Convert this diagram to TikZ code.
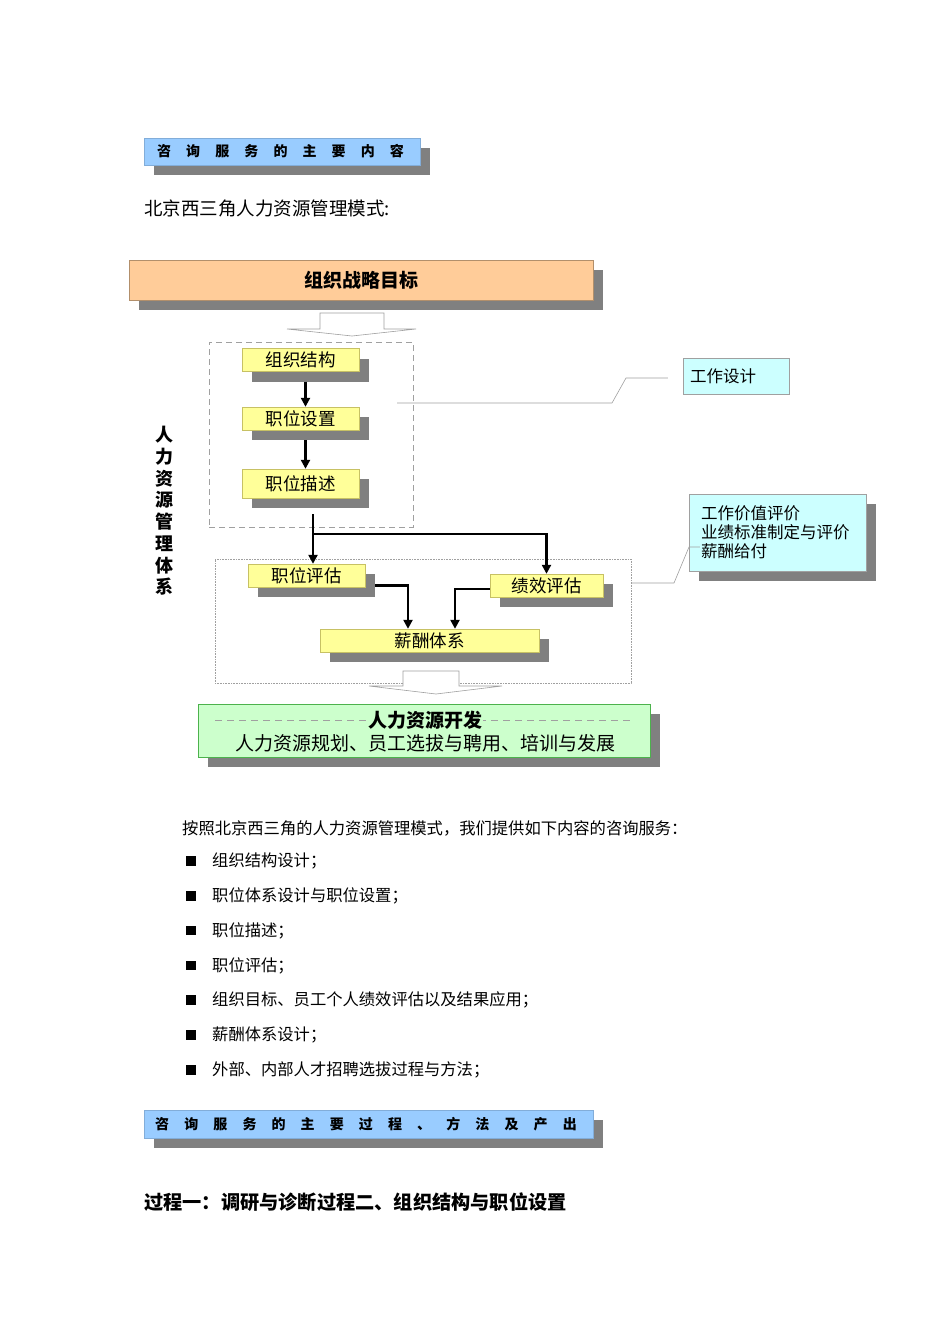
\documentclass[tikz,border=0pt]{standalone}
\usepackage{fontspec}
\usetikzlibrary{arrows.meta,calc,positioning,shadows}
\newfontfamily\cjk{Noto Sans CJK SC}
\newfontfamily\cjkwide{Noto Sans CJK SC}[LetterSpace=108]
\definecolor{bannerblue}{HTML}{99CCFF}
\definecolor{goalorange}{HTML}{FFCC99}
\definecolor{stepyellow}{HTML}{FFFF99}
\definecolor{notecyan}{HTML}{CCFFFF}
\definecolor{devgreen}{HTML}{CCFFCC}
\definecolor{shade}{HTML}{808080}
\definecolor{linegray}{HTML}{A0A0A0}

\begin{document}
\begin{tikzpicture}[x=1pt,y=-1pt,
    every node/.style={font=\cjk},
    shadowed/.style={drop shadow={shadow xshift=10pt,shadow yshift=-10pt,fill=shade,opacity=1}},
    banner/.style={fill=bannerblue,draw=bannerblue!85!black,line width=0.4pt,shadowed,
      inner sep=0pt,font=\cjkwide\bfseries\fontsize{14}{16}\selectfont},
    stepbox/.style={fill=stepyellow,draw=yellow!50!gray,line width=0.4pt,shadowed,
      inner sep=0pt,minimum width=117pt,minimum height=23pt,font=\cjk\fontsize{17.5}{19}\selectfont},
    notebox/.style={fill=notecyan,draw=linegray,line width=0.5pt,align=left,
      font=\cjk\fontsize{16.5}{19}\selectfont},
    frame/.style={draw=linegray,line width=0.6pt,minimum width=#1,inner sep=0pt},
    flow/.style={line width=2.6pt,-{Triangle[length=9pt,width=9pt]}},
    callout/.style={draw=linegray,line width=0.6pt},
    hollow/.style={draw=linegray,line width=0.6pt,fill=white},
    body/.style={anchor=west,inner sep=0pt,font=\cjk\fontsize{16.3}{18}\selectfont},
    bullet/.style={fill=black,minimum size=9.5pt,inner sep=0pt}
  ]
  \useasboundingbox (0,0) rectangle (950,1344);

  % section banners
  \node[banner,minimum width=276pt,minimum height=27pt] (topic) at (282,151.5)
    {\hspace*{-3pt}咨询服务的主要内容};
  \node[body,font=\cjk\fontsize{18.5}{20}\selectfont] (model) at (144,208) {北京西三角人力资源管理模式:};

  % strategy goal
  \node[fill=goalorange,draw=goalorange!70!black,line width=0.4pt,shadowed,inner sep=0pt,
    minimum width=464pt,minimum height=40pt,font=\cjk\bfseries\fontsize{19}{21}\selectfont]
    (goal) at (361,280) {组织战略目标};
  \draw[hollow] (320,313) -- (384,313) -- (384,329) -- (416,329) -- (352,336)
    -- (287,329) -- (320,329) -- cycle;

  % dashed frames
  \node[frame=204pt,dashed,dash pattern=on 6pt off 4pt,minimum height=185pt] (upper) at (311,434.5) {};
  \node[frame=416pt,densely dotted,minimum height=124pt] (lower) at (423,621) {};

  % steps
  \node[stepbox] (org) at (300.5,360) {组织结构};
  \node[stepbox] (setup) at (300.5,418.5) {职位设置};
  \node[stepbox,minimum height=29pt] (desc) at (300.5,483.5) {职位描述};
  \node[stepbox] (evalpos) at (306.5,575.5) {职位评估};
  \node[stepbox,minimum width=113pt] (evalperf) at (546.5,585.5) {绩效评估};
  \node[stepbox,minimum width=219pt] (pay) at (429.5,640.5) {薪酬体系};

  \draw[flow] ([xshift=5pt,yshift=-10pt]org.south) -- ([xshift=5pt]setup.north);
  \draw[flow] ([xshift=5pt,yshift=-10pt]setup.south) -- ([xshift=5pt]desc.north);
  \coordinate (descout) at ([xshift=12.5pt,yshift=-16pt]desc.south);
  \coordinate (split) at (descout |- 0,534);
  \draw[flow] (descout) -- (descout |- evalpos.north);
  \draw[flow] (split) -| (evalperf.north);
  \draw[flow] ([xshift=10pt,yshift=-10pt]evalpos.east) -| ([xshift=-21.5pt]pay.north);
  \draw[flow] ([yshift=-3.5pt]evalperf.west) -| ([xshift=25.5pt]pay.north);

  \draw[hollow] (403,671) -- (459,671) -- (459,686) -- (502,686) -- (436,694)
    -- (369,686) -- (403,686) -- cycle;

  % development
  \node[fill=devgreen,draw=green!40!gray,line width=0.4pt,shadowed,inner sep=0pt,
    minimum width=452pt,minimum height=53pt] (dev) at (424,730.5) {};
  \draw[linegray,dashed,dash pattern=on 7pt off 5pt] (215,720) -- (631,720);
  \node[fill=devgreen,inner sep=1pt,font=\cjk\bfseries\fontsize{19}{21}\selectfont]
    (devtitle) at (425,720) {人力资源开发};
  \node[font=\cjk\fontsize{19}{21}\selectfont,inner sep=0pt] (devtext) at (425,743)
    {人力资源规划、员工选拔与聘用、培训与发展};

  % side label
  \node[align=center,inner sep=0pt,font=\cjk\bfseries\fontsize{18}{21.7}\selectfont]
    (system) at (164,511) {人\\力\\资\\源\\管\\理\\体\\系};

  % notes
  \node[notebox,minimum width=106pt,minimum height=36pt,text width=92pt] (design) at (736,376) {工作设计};
  \node[notebox,shadowed,minimum width=177pt,minimum height=77pt,text width=153pt] (value) at (777.5,532.5)
    {工作价值评价\\业绩标准制定与评价\\薪酬给付};
  \coordinate (c1) at (397,403);
  \draw[callout] (c1) -- (612,403) -- (626,378) -- ([xshift=-15pt,yshift=-2pt]design.west);
  \coordinate (c2) at ([yshift=38pt]lower.east);
  \draw[callout] (c2) -- (674,583) -- (689,547) -- ([xshift=11pt,yshift=-14.5pt]value.west);

  % service list
  \node[body] (intro) at (182,828) {按照北京西三角的人力资源管理模式，我们提供如下内容的咨询服务：};
  \foreach \t [count=\i] in {组织结构设计；,职位体系设计与职位设置；,职位描述；,职位评估；,
      组织目标、员工个人绩效评估以及结果应用；,薪酬体系设计；,外部、内部人才招聘选拔过程与方法；}{
    \node[bullet] (dot\i) at (191,{861+34.8*(\i-1)}) {};
    \node[body] (item\i) at (212,{861+34.8*(\i-1)}) {\t};
  }

  \node[banner,minimum width=449pt,minimum height=28pt] (process) at (368.5,1124)
    {\hspace*{-5pt}咨询服务的主要过程、方法及产出};
  \node[body,font=\cjk\bfseries\fontsize{19.2}{21}\selectfont] (steps) at (144,1202)
    {过程一：调研与诊断过程二、组织结构与职位设置};
\end{tikzpicture}
\end{document}
